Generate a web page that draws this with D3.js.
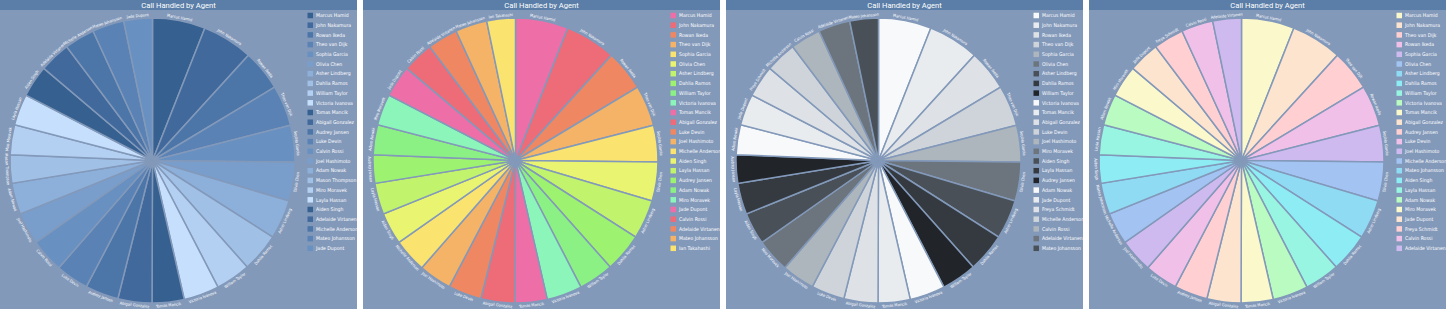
<!DOCTYPE html>
<html lang="en">
<head>
    <meta charset="UTF-8">
    <title>Call Handled by Agent</title>
    <script src="https://d3js.org/d3.v7.min.js"></script>
    <style>
        body { margin: 0; background: #fff; }
        svg { display: block; font-family: Roboto, "Noto Sans", sans-serif; }
        .narrow { font-family: "Liberation Sans Narrow", "DejaVu Sans Condensed", Roboto, sans-serif; }
    </style>
</head>
<body>
<script>

    // calls handled, same numbers in every panel
    var calls = [216, 208, 167, 167, 150, 159, 160, 159, 143, 145, 131, 139, 136,
                 135, 138, 131, 128, 116, 122, 128, 130, 127, 124, 130, 117]

    var agentsBlue = ['Marcus Hamid', 'John Nakamura', 'Rowan Ikeda', 'Theo van Dijk', 'Sophia Garcia',
        'Olivia Chen', 'Asher Lindberg', 'Dahlia Ramos', 'William Taylor', 'Victoria Ivanova',
        'Tomas Mancik', 'Abigail Gonzalez', 'Audrey Jansen', 'Luke Devin', 'Calvin Rossi',
        'Joel Hashimoto', 'Adam Nowak', 'Mason Thompson', 'Miro Moravek', 'Layla Hassan',
        'Aiden Singh', 'Adelaide Virtanen', 'Michelle Anderson', 'Mateo Johansson', 'Jade Dupont']

    var agentsWarm = ['Marcus Hamid', 'John Nakamura', 'Rowan Ikeda', 'Theo van Dijk', 'Sophia Garcia',
        'Olivia Chen', 'Asher Lindberg', 'Dahlia Ramos', 'William Taylor', 'Victoria Ivanova',
        'Tomas Mancik', 'Abigail Gonzalez', 'Luke Devin', 'Joel Hashimoto', 'Michelle Anderson',
        'Aiden Singh', 'Layla Hassan', 'Audrey Jansen', 'Adam Nowak', 'Miro Moravek',
        'Jade Dupont', 'Calvin Rossi', 'Adelaide Virtanen', 'Mateo Johansson', 'Ian Takahashi']

    var agentsGray = ['Marcus Hamid', 'John Nakamura', 'Rowan Ikeda', 'Theo van Dijk', 'Sophia Garcia',
        'Olivia Chen', 'Asher Lindberg', 'Dahlia Ramos', 'William Taylor', 'Victoria Ivanova',
        'Tomas Mancik', 'Abigail Gonzalez', 'Luke Devin', 'Joel Hashimoto', 'Miro Moravek',
        'Aiden Singh', 'Layla Hassan', 'Audrey Jansen', 'Adam Nowak', 'Jade Dupont',
        'Freya Schmidt', 'Michelle Anderson', 'Calvin Rossi', 'Adelaide Virtanen', 'Mateo Johansson']

    var agentsPastel = ['Marcus Hamid', 'John Nakamura', 'Theo van Dijk', 'Rowan Ikeda', 'Sophia Garcia',
        'Olivia Chen', 'Asher Lindberg', 'Dahlia Ramos', 'William Taylor', 'Victoria Ivanova',
        'Tomas Mancik', 'Abigail Gonzalez', 'Audrey Jansen', 'Luke Devin', 'Joel Hashimoto',
        'Michelle Anderson', 'Mateo Johansson', 'Aiden Singh', 'Layla Hassan', 'Adam Nowak',
        'Miro Moravek', 'Jade Dupont', 'Freya Schmidt', 'Calvin Rossi', 'Adelaide Virtanen']

    var blues = ['#36608f', '#41699c', '#4c75a8', '#5a82b4', '#6890c0',
                 '#7a9ecb', '#8db0da', '#a1c0e6', '#b3cff1', '#c6dffc']
    var warms = ['#ee6fa7', '#ee6b78', '#ef8862', '#f4b366', '#fae46f',
                 '#e9f570', '#c2f36c', '#9df36f', '#8cf184', '#8cf5b9']
    var grays = ['#f8f9fa', '#e9ecef', '#dee2e6', '#ced4da', '#adb5bd',
                 '#6c757d', '#495057', '#343a40', '#212529']
    var pastels = ['#fbf8cc', '#fde4cf', '#ffcfd2', '#f1c0e8', '#cfbaf0',
                   '#a3c4f3', '#90dbf4', '#8eecf5', '#98f5e1', '#b9fbc0']

    var w = 1446, h = 309
    var panelW = 357, gap = 6
    var bg = '#8399ba', barColor = '#5a7ea7'
    var cx = 152.5, cy = 160.5, radius = 142.5

    var svg = d3.select('body')
                .append('svg')
                .attr('width', w)
                .attr('height', h)

    var panels = [
        {names: agentsBlue, colors: blues},
        {names: agentsWarm, colors: warms},
        {names: agentsGray, colors: grays},
        {names: agentsPastel, colors: pastels}
    ]

    var pie = d3.pie().sort(null).value((d)=> d.value)
    var arc = d3.arc().innerRadius(0).outerRadius(radius)

    panels.forEach((p, i)=> {
        var g = svg.append('g')
                   .attr('transform', 'translate(' + i * (panelW + gap) + ',0)')

        var data = p.names.map((n, k)=> ({name: n, value: calls[k]}))
        var color = d3.scaleOrdinal().domain(p.names).range(p.colors)

        g.append('rect')
         .attr('width', panelW)
         .attr('height', h)
         .attr('fill', bg)

        g.append('rect')
         .attr('width', panelW)
         .attr('height', 10)
         .attr('fill', barColor)

        g.append('text')
         .attr('x', panelW / 2)
         .attr('y', 7.8)
         .attr('text-anchor', 'middle')
         .attr('fill', '#fff')
         .attr('font-size', 7.6)
         .text('Call Handled by Agent')

        var chart = g.append('g')
                     .attr('transform', 'translate(' + cx + ',' + cy + ')')

        var slices = pie(data)

        chart.selectAll('path')
             .data(slices)
             .enter()
             .append('path')
             .attr('d', arc)
             .attr('fill', (d)=> color(d.data.name))
             .attr('stroke', bg)
             .attr('stroke-width', 1.5)

        // names around the rim, flipped on the lower half
        chart.selectAll('text')
             .data(slices)
             .enter()
             .append('text')
             .attr('class', 'narrow')
             .attr('transform', (d)=> {
                 var mid = (d.startAngle + d.endAngle) / 2
                 var deg = mid * 180 / Math.PI
                 var r = radius + 3
                 var rot = (deg > 90 && deg < 270) ? deg - 180 : deg
                 return 'translate(' + (Math.sin(mid) * r) + ',' + (-Math.cos(mid) * r) + ') rotate(' + rot + ')'
             })
             .attr('text-anchor', 'middle')
             .attr('dy', '0.35em')
             .attr('fill', '#fff')
             .attr('font-size', 4)
             .text((d)=> d.data.name)

        var legend = g.append('g')
                      .attr('transform', 'translate(307.5,15.5)')

        var item = legend.selectAll('g')
                         .data(data)
                         .enter()
                         .append('g')
                         .attr('transform', (d, k)=> 'translate(0,' + k * 9.7 + ')')

        item.append('rect')
            .attr('y', -2.75)
            .attr('width', 5.5)
            .attr('height', 5.5)
            .attr('fill', (d)=> color(d.name))

        item.append('text')
            .attr('class', 'narrow')
            .attr('x', 8.5)
            .attr('dy', '0.35em')
            .attr('fill', '#fff')
            .attr('font-size', 5.1)
            .text((d)=> d.name)
    })

</script>
</body>
</html>
